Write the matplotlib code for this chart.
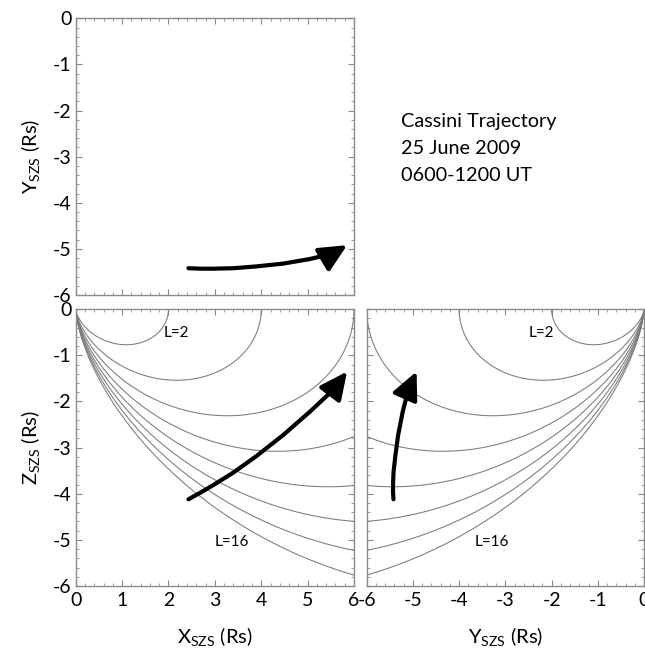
import numpy as np
import matplotlib
matplotlib.use('Agg')
import matplotlib.pyplot as plt
from matplotlib.ticker import MultipleLocator

plt.rcParams['font.family'] = ['Lato', 'DejaVu Sans']
plt.rcParams['mathtext.fontset'] = 'custom'
plt.rcParams['mathtext.rm'] = 'Lato'
plt.rcParams['mathtext.it'] = 'Lato'
plt.rcParams['axes.unicode_minus'] = False

# dipole L-shells drawn in the meridian panels
L_shells = [2, 4, 6, 8, 10, 12, 14, 16]

# Cassini trajectory, 25 June 2009 0600-1200 UT (SZS coordinates, Rs)
traj_x = [2.43, 2.70, 2.97, 3.40, 3.90, 4.47, 5.05, 5.55, 5.85]
traj_y = [-5.42, -5.43, -5.43, -5.42, -5.38, -5.32, -5.22, -5.10, -4.92]
traj_z = [-4.12, -3.97, -3.81, -3.54, -3.18, -2.73, -2.22, -1.75, -1.35]

info_text = ['Cassini Trajectory', '25 June 2009', '0600-1200 UT']

gray = '#8a8a8a'
fig = plt.figure(figsize=(6.45, 6.49), dpi=100)
ax_xy = fig.add_axes([0.1174, 0.5455, 0.4315, 0.4263])
ax_xz = fig.add_axes([0.1174, 0.0971, 0.4315, 0.4264])
ax_yz = fig.add_axes([0.5685, 0.0971, 0.4300, 0.4264])


def style(ax, xlim):
    ax.set_xlim(*xlim)
    ax.set_ylim(-6, 0)
    ax.xaxis.set_major_locator(MultipleLocator(1))
    ax.yaxis.set_major_locator(MultipleLocator(1))
    ax.xaxis.set_minor_locator(MultipleLocator(0.2))
    ax.yaxis.set_minor_locator(MultipleLocator(0.2))
    ax.tick_params(which='both', direction='in', top=True, right=True,
                   color=gray, labelsize=14)
    ax.tick_params(which='major', length=4, width=0.8)
    ax.tick_params(which='minor', length=2, width=0.6)
    ax.tick_params(axis='x', pad=4)
    ax.tick_params(axis='y', pad=3)
    for s in ax.spines.values():
        s.set_color(gray)
        s.set_linewidth(1.0)


def traj(ax, a, b):
    ax.plot(a[:-1], b[:-1], color='black', lw=3.0, solid_capstyle='round',
            solid_joinstyle='round')
    ax.annotate('', xy=(a[-1], b[-1]), xytext=(a[-2], b[-2]),
                arrowprops=dict(arrowstyle='-|>,head_length=1.05,head_width=0.5',
                                color='black', lw=3.0, shrinkA=0, shrinkB=0,
                                mutation_scale=16))


# field lines: r = L cos^2(lat)
lat = np.linspace(0, np.pi / 2, 300)
for L in L_shells:
    r = L * np.cos(lat) ** 2
    h = r * np.cos(lat)
    v = -r * np.sin(lat)
    ax_xz.plot(h, v, color='#7a7a7a', lw=0.75)
    ax_yz.plot(-h, v, color='#7a7a7a', lw=0.75)

style(ax_xy, (0, 6))
style(ax_xz, (0, 6))
style(ax_yz, (-6, 0))
ax_xy.tick_params(labelbottom=False)
ax_yz.tick_params(labelleft=False)

traj(ax_xy, traj_x, traj_y)
traj(ax_xz, traj_x, traj_z)
traj(ax_yz, traj_y, traj_z)

ax_xz.text(2.18, -0.52, 'L=2', fontsize=11, ha='center', va='center')
ax_xz.text(3.36, -5.04, 'L=16', fontsize=11, ha='center', va='center')
ax_yz.text(-2.23, -0.52, 'L=2', fontsize=11, ha='center', va='center')
ax_yz.text(-3.29, -5.04, 'L=16', fontsize=11, ha='center', va='center')

ax_xy.set_ylabel(r'$\mathregular{Y_{SZS}}$ (Rs)', fontsize=14.5, labelpad=8)
ax_xz.set_ylabel(r'$\mathregular{Z_{SZS}}$ (Rs)', fontsize=14.5, labelpad=8)
ax_xz.set_xlabel(r'$\mathregular{X_{SZS}}$ (Rs)', fontsize=14.5, labelpad=12)
ax_yz.set_xlabel(r'$\mathregular{Y_{SZS}}$ (Rs)', fontsize=14.5, labelpad=12)

for i, t in enumerate(info_text):
    fig.text(0.622, 1 - (121.7 + 27 * i) / 649, t, fontsize=14.3, va='center', ha='left')

fig.savefig('out.png', dpi=100)
